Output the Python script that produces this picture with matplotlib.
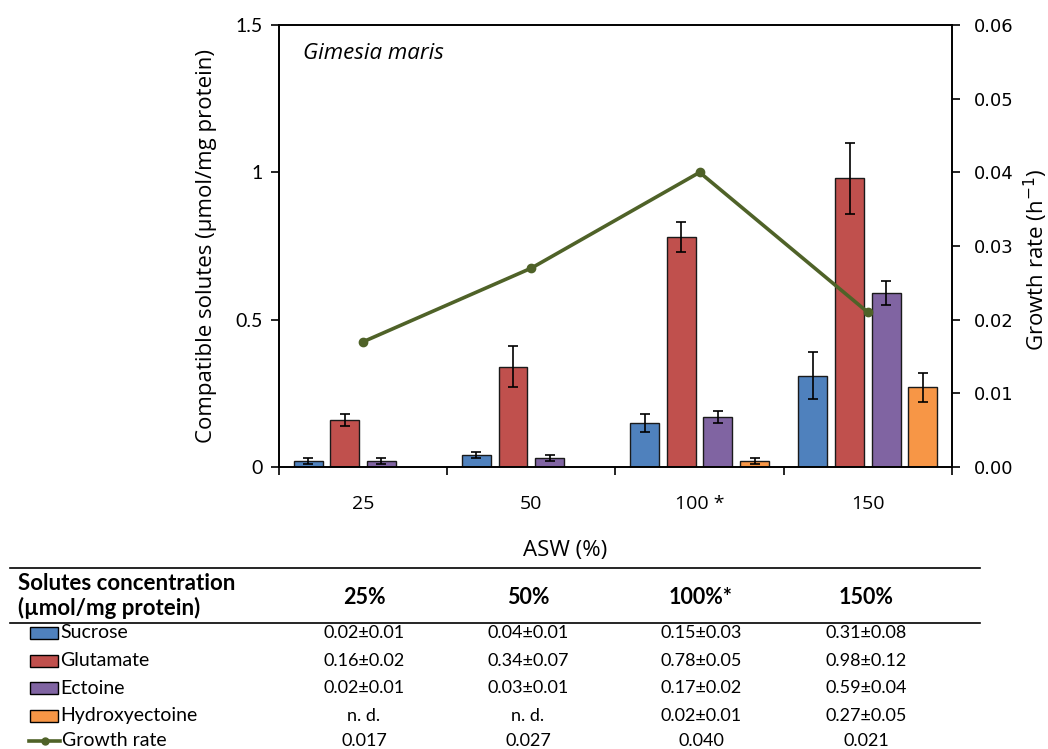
import numpy as np
import matplotlib
matplotlib.use("Agg")
import matplotlib.pyplot as plt
from matplotlib.patches import Rectangle
from matplotlib.lines import Line2D

plt.rcParams['font.family'] = ['Lato', 'DejaVu Sans']
OPEN = ['Open Sans', 'DejaVu Sans']

# data
categories = ["25", "50", "100 *", "150"]
col_headers = ["25%", "50%", "100%*", "150%"]
solutes = ["Sucrose", "Glutamate", "Ectoine", "Hydroxyectoine"]
sucrose = [0.02, 0.04, 0.15, 0.31]
sucrose_err = [0.01, 0.01, 0.03, 0.08]
glutamate = [0.16, 0.34, 0.78, 0.98]
glutamate_err = [0.02, 0.07, 0.05, 0.12]
ectoine = [0.02, 0.03, 0.17, 0.59]
ectoine_err = [0.01, 0.01, 0.02, 0.04]
hydroxyectoine = [np.nan, np.nan, 0.02, 0.27]
hydroxyectoine_err = [np.nan, np.nan, 0.01, 0.05]
growth = [0.017, 0.027, 0.040, 0.021]

colors = ["#4F81BD", "#C0504D", "#8064A2", "#F79646"]
line_color = "#4F6228"

values = [sucrose, glutamate, ectoine, hydroxyectoine]
errors = [sucrose_err, glutamate_err, ectoine_err, hydroxyectoine_err]

fig = plt.figure(figsize=(10.48, 7.49), dpi=100)
ax = fig.add_axes([0.2662, 0.3765, 0.6422, 0.5901])
ax2 = ax.twinx()

x = np.arange(len(categories))
width = 0.172
step = 0.218
for i, (vals, errs) in enumerate(zip(values, errors)):
    pos = x + (i - 1.5) * step
    ax.bar(pos, vals, width, color=colors[i], edgecolor="#1a1a1a", linewidth=1.0, zorder=2)
    ax.errorbar(pos, vals, yerr=errs, fmt="none", ecolor="black", elinewidth=1.2,
                capsize=3.5, capthick=1.2, zorder=3)

ax.set_xlim(-0.5, 3.5)
ax.set_ylim(0, 1.5)
ax.set_yticks([0, 0.5, 1, 1.5])
ax.set_yticklabels(["0", "0.5", "1", "1.5"])
ax.set_xticks(x)
ax.set_xticklabels(categories, family=OPEN)
ax.set_xticks([-0.5, 0.5, 1.5, 2.5, 3.5], minor=True)
ax.tick_params(axis="x", which="major", length=0, labelsize=14, pad=20)
ax.tick_params(axis="x", which="minor", length=6, width=1.2, direction="out")
ax.tick_params(axis="y", length=6, width=1.2, direction="out", labelsize=14, pad=6)
ax.set_ylabel("Compatible solutes (µmol/mg protein)", fontsize=16, family=OPEN)
ax.yaxis.set_label_coords(-0.092, 0.5)
ax.set_xlabel("ASW (%)", fontsize=16, family=OPEN)
ax.xaxis.set_label_coords(0.425, -0.165)
for s in ax.spines.values():
    s.set_linewidth(1.2)

ax2.plot(x, growth, color=line_color, linewidth=2.6, marker="o", markersize=6, zorder=4)
ax2.set_ylim(0, 0.06)
ax2.set_yticks(np.arange(0, 0.061, 0.01))
ax2.set_yticklabels([f"{t:.2f}" for t in np.arange(0, 0.061, 0.01)], family="DejaVu Sans")
ax2.tick_params(axis="y", length=6, width=1.2, direction="out", labelsize=13, pad=10)
ax2.set_ylabel("Growth rate (h$^{-1}$)", fontsize=16, family=OPEN)
ax2.yaxis.set_label_coords(1.103, 0.47)
for s in ax2.spines.values():
    s.set_linewidth(1.2)

ax.text(0.036, 0.935, "Gimesia maris", transform=ax.transAxes, fontsize=16,
        style="italic", va="center", ha="left", family=OPEN)

# table below the chart (figure coords, px from top)
W, H = 1048, 749
def fy(py):
    return 1 - py / H

col_x = [364 / W, 528 / W, 701 / W, 866 / W]

fig.add_artist(Line2D([10 / W, 980 / W], [fy(568), fy(568)], color="black", linewidth=1.2))
fig.add_artist(Line2D([10 / W, 980 / W], [fy(623), fy(623)], color="black", linewidth=1.2))

fig.text(18 / W, fy(583), "Solutes concentration", fontsize=16, fontweight="bold", va="center")
fig.text(18 / W, fy(608), "(µmol/mg protein)", fontsize=16, fontweight="bold", va="center")
for cx, h in zip(col_x, col_headers):
    fig.text(cx, fy(597), h, fontsize=15.5, fontweight="bold", ha="center", va="center")

row_y = [633, 661, 688, 716, 741]

def cell(v, e):
    if np.isnan(v):
        return "n. d."
    return f"{v:.2f}±{e:.2f}"

for r, name in enumerate(solutes):
    py = row_y[r]
    fig.add_artist(Rectangle((30 / W, fy(py + 6)), 28 / W, 12 / H, facecolor=colors[r],
                             edgecolor="black", linewidth=1.0, transform=fig.transFigure))
    fig.text(60 / W, fy(py), name, fontsize=14, va="center")
    for cx, v, e in zip(col_x, values[r], errors[r]):
        fig.text(cx, fy(py), cell(v, e), fontsize=13, ha="center", va="center")

py = row_y[4]
fig.add_artist(Line2D([29 / W, 60 / W], [fy(py), fy(py)], color=line_color, linewidth=2.6,
                      transform=fig.transFigure))
fig.add_artist(Line2D([45 / W], [fy(py)], color=line_color, marker="o", markersize=5,
                      transform=fig.transFigure))
fig.text(62 / W, fy(py), "Growth rate", fontsize=14, va="center")
for cx, g in zip(col_x, growth):
    fig.text(cx, fy(py), f"{g:.3f}", fontsize=13, ha="center", va="center")

fig.savefig("out.png", dpi=100)
